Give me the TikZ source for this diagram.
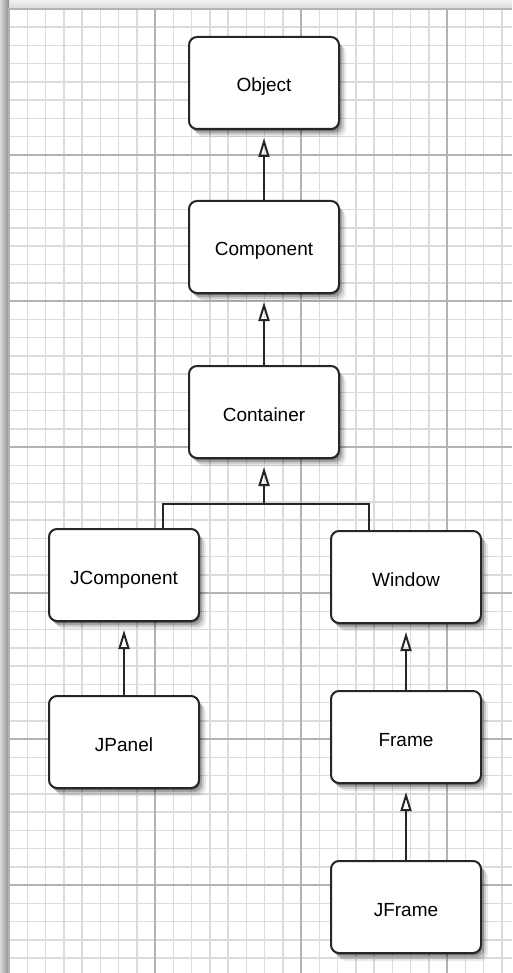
\documentclass[tikz,border=0pt]{standalone}
\usepackage{fontspec}
\setmainfont{Liberation Sans}
\usetikzlibrary{arrows.meta,shadows,positioning}

\begin{document}
\begin{tikzpicture}[x=1pt, y=-1pt,
  >={Triangle[open,length=19pt,width=11pt]},
  cls/.style={draw=black!85, line width=2pt, rounded corners=8pt, fill=white,
    minimum width=150pt, minimum height=92pt, inner sep=0pt,
    text height=18pt, text depth=0pt,
    font=\fontsize{19}{22}\selectfont,
    drop shadow={shadow xshift=7pt, shadow yshift=-8pt, opacity=.08, fill=black},
    drop shadow={shadow xshift=5pt, shadow yshift=-6pt, opacity=.12, fill=black},
    drop shadow={shadow xshift=3pt, shadow yshift=-4pt, opacity=.2, fill=black},
    drop shadow={shadow xshift=1pt, shadow yshift=-2pt, opacity=.3, fill=black}},
  inh/.style={->, line width=2pt, draw=black!85, shorten >=8pt}]
\useasboundingbox (0,0) rectangle (512,973);
\fill[white](0,0) rectangle (512,973);
\shade[top color=black!5, bottom color=black!15](0,0) rectangle (512,9);
\shade[left color=black!15, right color=black!45](0,0) rectangle (9,973);
\foreach \i in {0,...,27}
    \draw[black!14, line width=1.5pt]({9+18.25*\i},9)--({9+18.25*\i},973);
\foreach \i in {0,...,52}
    \draw[black!14, line width=1.5pt](9,{9+18.25*\i})--(512,{9+18.25*\i});
\foreach \x in {155,301,447}
    \draw[black!30, line width=1.5pt](\x,9)--(\x,973);
\foreach \y in {155,301,447,593,739,885}
    \draw[black!30, line width=1.5pt](9,\y)--(512,\y);
\draw[black!30, line width=1.5pt](9,973)--(9,9)--(512,9);

\node[cls] (object) at (264,83) {Object};
\node[cls] (component) at (264,247) {Component};
\node[cls] (container) at (264,412) {Container};
\node[cls] (jcomponent) at (124,575) {JComponent};
\node[cls] (window) at (406,577) {Window};
\node[cls] (jpanel) at (124,742) {JPanel};
\node[cls] (frame) at (406,737) {Frame};
\node[cls] (jframe) at (406,907) {JFrame};
\coordinate (fork) at (264,504);

\draw[inh](component)--(object);
\draw[inh](container)--(component);
\draw[line width=2pt, draw=black!85]([xshift=39pt]jcomponent.north)|-(fork)-|([xshift=-37pt]window.north);
\draw[inh](fork)--(container);
\draw[inh](jpanel)--(jcomponent);
\draw[inh](frame)--(window);
\draw[inh](jframe)--(frame);

\end{tikzpicture}
\end{document}
